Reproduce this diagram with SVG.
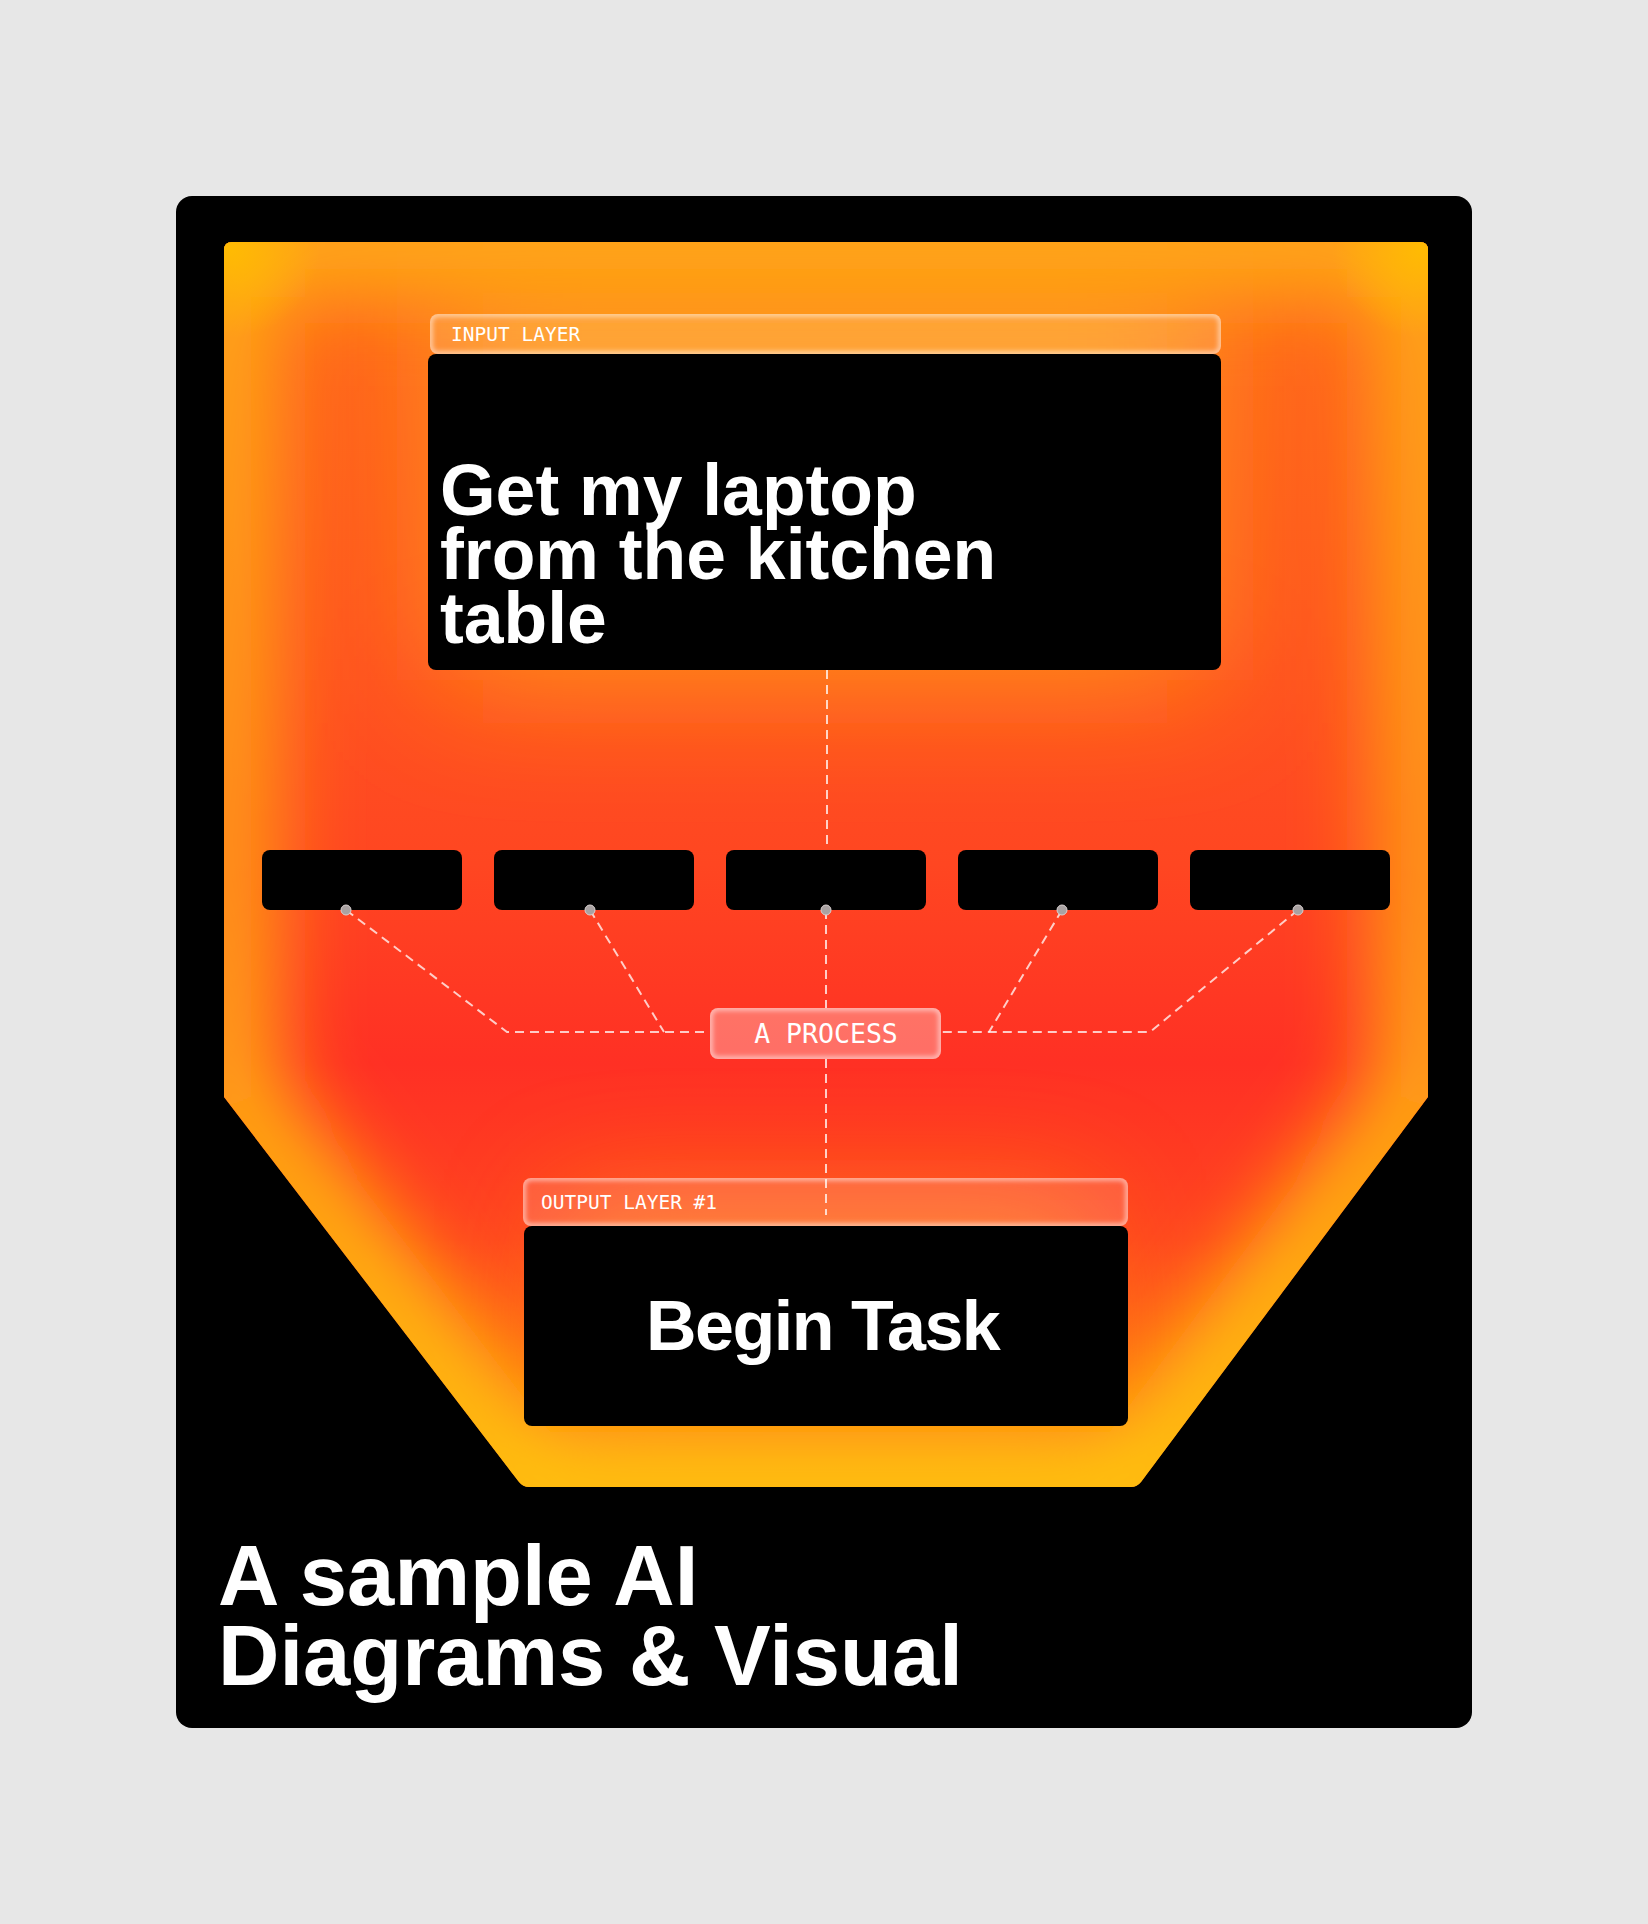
<svg xmlns="http://www.w3.org/2000/svg" width="1648" height="1924" viewBox="0 0 1648 1924">
  <defs>
    <style>
      .title { font-family: 'Liberation Sans', Arial, sans-serif; font-weight: 700; fill: #ffffff; }
      .mono { font-family: 'DejaVu Sans Mono', 'Liberation Mono', monospace; fill: #ffffff; }
      .box { fill: #000000; }
      .dash { fill: none; stroke: #ffffff; stroke-opacity: 0.75; stroke-width: 2; stroke-dasharray: 9 6; }
      .dot { fill: #a9a2a2; stroke: #d8d0d0; stroke-width: 1; }
      .glass { fill: #ffffff; fill-opacity: 0.14; }
      .glassEdge { fill: none; stroke: #ffffff; stroke-opacity: 0.6; stroke-width: 5; }
    </style>
    <clipPath id="shapeClip">
      <path d="M232 242 H1420 Q1428 242 1428 250 V1097 L1141 1482 Q1137 1487 1131 1487 H529 Q523 1487 519 1482 L224 1097 V250 Q224 242 232 242 Z"/>
    </clipPath>
    <clipPath id="inTabClip"><rect x="430" y="314" width="791" height="40" rx="8"/></clipPath>
    <clipPath id="outTabClip"><rect x="523" y="1178" width="605" height="48" rx="8"/></clipPath>
    <clipPath id="procClip"><rect x="710" y="1008" width="231" height="51" rx="8"/></clipPath>
    <filter id="bigBlur" filterUnits="userSpaceOnUse" x="0" y="0" width="1648" height="1924">
      <feGaussianBlur stdDeviation="65"/>
    </filter>
    <filter id="midBlur" filterUnits="userSpaceOnUse" x="0" y="0" width="1648" height="1924">
      <feGaussianBlur stdDeviation="60"/>
    </filter>
    <filter id="edgeBlur" filterUnits="userSpaceOnUse" x="0" y="0" width="1648" height="1924">
      <feGaussianBlur stdDeviation="40"/>
    </filter>
    <filter id="softBlur" x="-10%" y="-50%" width="120%" height="200%">
      <feGaussianBlur stdDeviation="2.5"/>
    </filter>
    <linearGradient id="baseGrad" gradientUnits="userSpaceOnUse" x1="0" y1="242" x2="0" y2="1487">
      <stop offset="0" stop-color="#FF6A1C"/>
      <stop offset="0.3" stop-color="#FF5520"/>
      <stop offset="0.5" stop-color="#FF4621"/>
      <stop offset="0.66" stop-color="#FF3024"/>
      <stop offset="0.8" stop-color="#FF4420"/>
      <stop offset="1" stop-color="#FF8416"/>
    </linearGradient>
    <linearGradient id="edgeGrad" gradientUnits="userSpaceOnUse" x1="0" y1="242" x2="0" y2="1487">
      <stop offset="0" stop-color="#FFA812"/>
      <stop offset="0.5" stop-color="#FF9614"/>
      <stop offset="1" stop-color="#FFC40E"/>
    </linearGradient>
    <radialGradient id="cornerGlow" cx="0.5" cy="0.5" r="0.5">
      <stop offset="0" stop-color="#FFBE00" stop-opacity="0.9"/>
      <stop offset="1" stop-color="#FFBE00" stop-opacity="0"/>
    </radialGradient>
  </defs>

  <rect x="0" y="0" width="1648" height="1924" fill="#E7E7E7"/>
  <rect id="card" x="176" y="196" width="1296" height="1532" rx="16" fill="#000000"/>

  <g id="glow-field" clip-path="url(#shapeClip)">
    <rect x="200" y="230" width="1250" height="1270" fill="url(#baseGrad)"/>
    <rect x="440" y="250" width="770" height="430" fill="#FF9418" filter="url(#bigBlur)"/>
    <rect x="560" y="1200" width="530" height="260" fill="#FF8A18" opacity="0.7" filter="url(#midBlur)"/>
    <path d="M232 242 H1420 Q1428 242 1428 250 V1097 L1141 1482 Q1137 1487 1131 1487 H529 Q523 1487 519 1482 L224 1097 V250 Q224 242 232 242 Z" fill="none" stroke="url(#edgeGrad)" stroke-width="110" filter="url(#edgeBlur)"/>
    <circle cx="230" cy="248" r="90" fill="url(#cornerGlow)"/>
    <circle cx="1422" cy="248" r="90" fill="url(#cornerGlow)"/>
  </g>

  <g id="connectors">
    <path class="dash" d="M827 670 V850"/>
    <path class="dash" d="M346 910 L507 1032 H710"/>
    <path class="dash" d="M590 910 L664 1032"/>
    <path class="dash" d="M1062 910 L989 1032"/>
    <path class="dash" d="M1298 910 L1150 1032 H941"/>
    <path class="dash" d="M826 910 V1008"/>
    <path class="dash" d="M826 1059 V1215"/>
  </g>

  <g id="input-layer">
    <g clip-path="url(#inTabClip)">
      <rect class="glass" x="430" y="314" width="791" height="40"/>
      <rect class="glassEdge" x="430" y="314" width="791" height="40" rx="8" filter="url(#softBlur)"/>
    </g>
    <text class="mono" x="451" y="341" font-size="19.5">INPUT LAYER</text>
    <rect class="box" x="428" y="354" width="793" height="316" rx="8"/>
    <text class="title" font-size="71.5">
      <tspan x="440" y="515">Get my laptop</tspan>
      <tspan x="440" y="579">from the kitchen</tspan>
      <tspan x="440" y="643">table</tspan>
    </text>
  </g>

  <g id="step-1"><rect class="box" x="262" y="850" width="200" height="60" rx="8"/><circle class="dot" cx="346" cy="910" r="5"/></g>
  <g id="step-2"><rect class="box" x="494" y="850" width="200" height="60" rx="8"/><circle class="dot" cx="590" cy="910" r="5"/></g>
  <g id="step-3"><rect class="box" x="726" y="850" width="200" height="60" rx="8"/><circle class="dot" cx="826" cy="910" r="5"/></g>
  <g id="step-4"><rect class="box" x="958" y="850" width="200" height="60" rx="8"/><circle class="dot" cx="1062" cy="910" r="5"/></g>
  <g id="step-5"><rect class="box" x="1190" y="850" width="200" height="60" rx="8"/><circle class="dot" cx="1298" cy="910" r="5"/></g>

  <g id="process">
    <g clip-path="url(#procClip)">
      <rect x="710" y="1008" width="231" height="51" fill="#ffffff" fill-opacity="0.3"/>
      <rect class="glassEdge" x="710" y="1008" width="231" height="51" rx="8" filter="url(#softBlur)"/>
    </g>
    <text class="mono" x="826" y="1043" font-size="26.5" text-anchor="middle">A PROCESS</text>
  </g>

  <g id="output-layer">
    <g clip-path="url(#outTabClip)">
      <rect class="glass" x="523" y="1178" width="605" height="48"/>
      <rect class="glassEdge" x="523" y="1178" width="605" height="48" rx="8" filter="url(#softBlur)"/>
    </g>
    <text class="mono" x="541" y="1209" font-size="19.5">OUTPUT LAYER #1</text>
    <rect class="box" x="524" y="1226" width="604" height="200" rx="8"/>
    <text class="title" x="646" y="1350" font-size="70" letter-spacing="-1.5">Begin Task</text>
  </g>

  <g id="caption">
    <text class="title" font-size="85">
      <tspan x="218" y="1605">A sample AI</tspan>
      <tspan x="218" y="1685">Diagrams &amp; Visual</tspan>
    </text>
  </g>
</svg>
